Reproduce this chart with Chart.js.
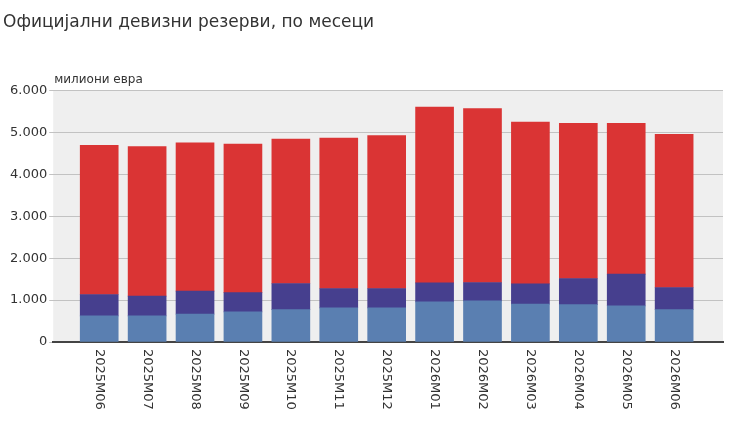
<!DOCTYPE html>
<html>
<head>
<meta charset="utf-8">
<script src="https://cdn.jsdelivr.net/npm/chart.js@4.4.1/dist/chart.umd.min.js"></script>
<style>
  html, body { margin: 0; padding: 0; background: #fff; }
  #wrap { position: relative; width: 730px; height: 422px; }
</style>
</head>
<body>
<div id="wrap"><canvas id="reserves-chart"></canvas></div>
<script>
// Months shown on the x axis
const categories = ['2025M06', '2025M07', '2025M08', '2025M09', '2025M10', '2025M11', '2025M12',
  '2026M01', '2026M02', '2026M03', '2026M04', '2026M05', '2026M06'];

// Stacked components, millions of euro (bottom -> top)
const lightBlue = [622, 622, 663, 718, 772, 813, 813, 957, 981, 902, 892, 861, 772];
const darkBlue  = [510, 471, 550, 461, 623, 462, 462, 454, 438, 486, 622, 759, 527];
const red       = [3558, 3567, 3537, 3541, 3445, 3589, 3646, 4194, 4148, 3858, 3701, 3595, 3653];

// Y axis ticks
const yTicks = [0, 1000, 2000, 3000, 4000, 5000, 6000];

const TITLE = 'Официјални девизни резерви, по месеци';
const UNIT = 'милиони евра';
const FONT = 'DejaVu Sans';

function formatThousands(v) {
  return String(v).replace(/\B(?=(\d{3})+(?!\d))/g, '.');
}

function toPoints(values) {
  return values.map((v, i) => ({ x: i, y: v }));
}

// grey plot background, unit label and clockwise x labels
const decorations = {
  id: 'decorations',
  beforeDraw(chart) {
    const { ctx, chartArea } = chart;
    ctx.save();
    ctx.fillStyle = '#efefef';
    ctx.fillRect(chartArea.left, chartArea.top, chartArea.right - chartArea.left, chartArea.bottom - chartArea.top);
    ctx.restore();
  },
  afterDraw(chart) {
    const { ctx, chartArea, scales } = chart;
    ctx.save();
    ctx.fillStyle = '#333';
    ctx.font = '12px "' + FONT + '"';
    ctx.textAlign = 'left';
    ctx.textBaseline = 'alphabetic';
    ctx.fillText(UNIT, chartArea.left + 1, chartArea.top - 7);

    ctx.font = '13px "' + FONT + '"';
    ctx.textBaseline = 'middle';
    categories.forEach((label, i) => {
      const x = scales.x.getPixelForValue(i);
      ctx.save();
      ctx.translate(x, chartArea.bottom + 7);
      ctx.rotate(Math.PI / 2);
      ctx.fillText(label, 0, 0);
      ctx.restore();
    });
    ctx.restore();
  }
};

const ctx = document.getElementById('reserves-chart').getContext('2d');
new Chart(ctx, {
  type: 'bar',
  data: {
    datasets: [
      { label: 'Компонента 1', data: toPoints(lightBlue), backgroundColor: '#5a7fb1', barThickness: 38 },
      { label: 'Компонента 2', data: toPoints(darkBlue), backgroundColor: '#463f8e', barThickness: 38 },
      { label: 'Компонента 3', data: toPoints(red), backgroundColor: '#da3434', barThickness: 38 }
    ]
  },
  options: {
    responsive: true,
    maintainAspectRatio: false,
    animation: false,
    layout: { padding: { left: 3, right: 7, bottom: 72 } },
    plugins: {
      legend: { display: false },
      tooltip: { enabled: false },
      title: {
        display: true,
        text: TITLE,
        align: 'start',
        color: '#333',
        font: { family: FONT, size: 17, weight: 'normal' },
        padding: { top: 12, bottom: 58 }
      }
    },
    scales: {
      x: {
        type: 'linear',
        stacked: true,
        offset: false,
        min: -0.96,
        max: 13.02,
        grid: { display: false },
        ticks: { display: false },
        border: { display: true, color: '#444', width: 2 }
      },
      y: {
        stacked: true,
        min: yTicks[0],
        max: yTicks[yTicks.length - 1],
        afterBuildTicks(scale) {
          scale.ticks = yTicks.map(v => ({ value: v }));
        },
        afterFit(scale) {
          scale.width += 5;
        },
        grid: { color: '#c2c2c2', lineWidth: 1, tickLength: 4 },
        border: { display: false },
        ticks: {
          color: '#333',
          padding: 2,
          font: { family: FONT, size: 13 },
          callback: v => formatThousands(v)
        }
      }
    }
  },
  plugins: [decorations]
});
</script>
</body>
</html>
